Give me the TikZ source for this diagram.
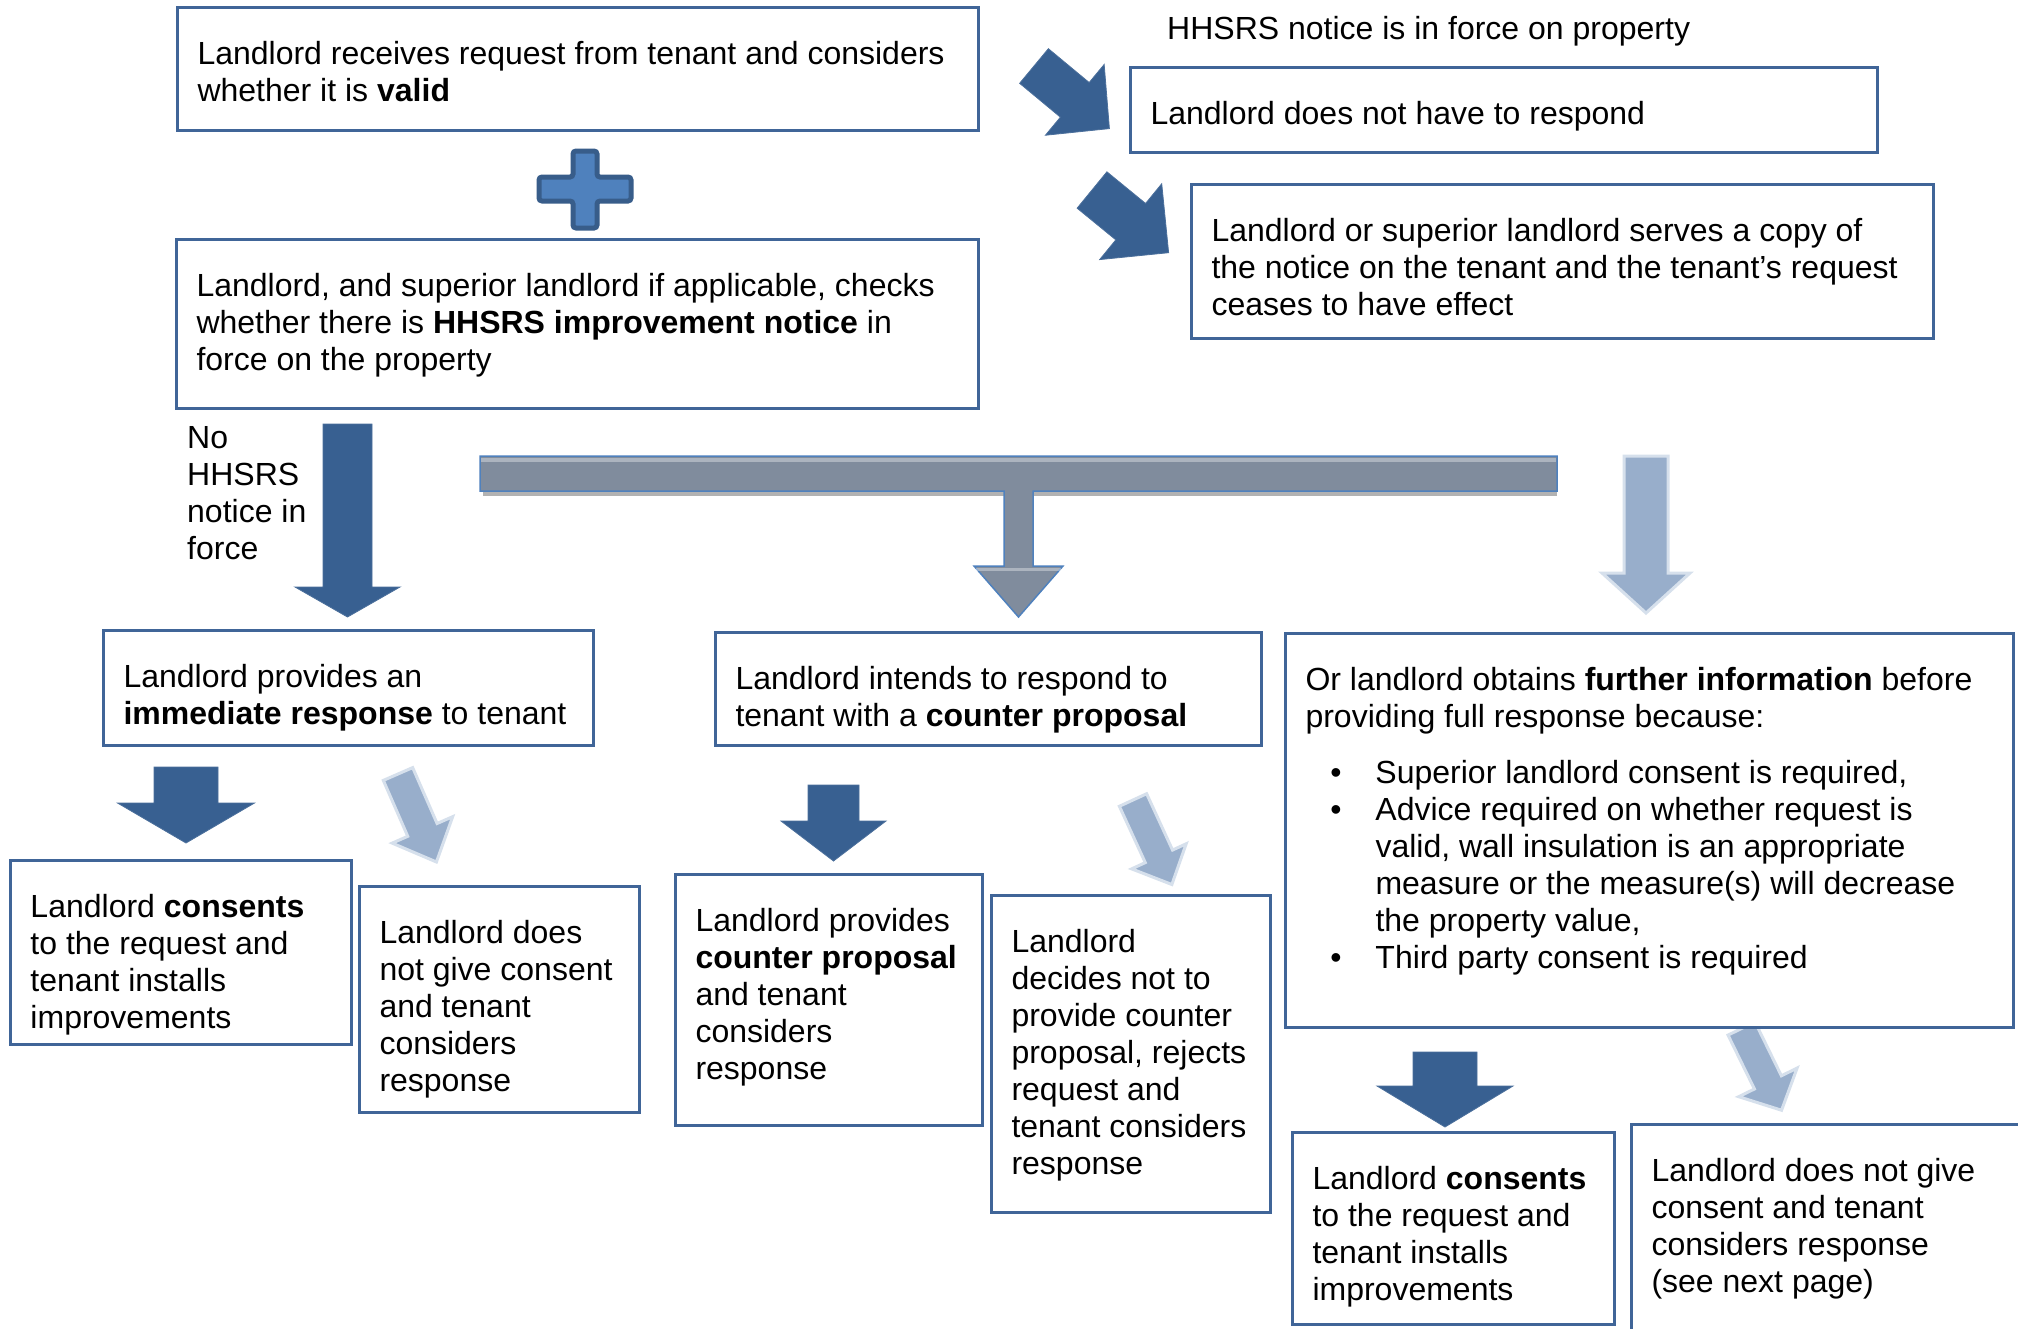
\documentclass[tikz,border=0pt]{standalone}
\usepackage{fontspec}
\setmainfont{Liberation Sans}
\definecolor{boxline}{RGB}{64,101,152}
\definecolor{darkarrow}{RGB}{56,96,145}
\definecolor{lightarrow}{RGB}{152,174,203}
\definecolor{lightedge}{RGB}{214,224,236}
\definecolor{bargray}{RGB}{128,140,157}
\definecolor{baredge}{RGB}{79,129,189}
\definecolor{plusfill}{RGB}{79,129,189}
\definecolor{plusedge}{RGB}{56,93,138}
\tikzset{
  fbox/.style={draw=boxline, line width=3pt, fill=white, font=\fontsize{32pt}{37pt}\selectfont},
  plaintext/.style={font=\fontsize{32pt}{37pt}\selectfont},
  darkarr/.style={fill=darkarrow, draw=darkarrow!90!white, line width=0.8pt},
  lightarr/.style={fill=lightarrow, draw=lightedge, line width=3pt, line join=miter},
}
% style, name, x, y, width, height, text
\newcommand{\tb}[7]{\node[#1, anchor=north west, inner sep=0pt] (#2) at (#3,#4) {\parbox[c][#6pt][t]{#5pt}{\raggedright\leftskip=20pt\relax\rule{0pt}{57pt}#7}};}
% style, x, y, angle, shaft length, shaft width, head length, head width
\newcommand{\blockarr}[8]{\path[#1, shift={(#2,#3)}, rotate=#4, x=1pt, y=1pt]
  (0,{-#6/2}) -- (#5,{-#6/2}) -- (#5,{-#8/2}) -- ({#5+#7},0) -- (#5,{#8/2}) -- (#5,{#6/2}) -- (0,{#6/2}) -- cycle;}
\begin{document}
\begin{tikzpicture}[x=1pt,y=-1pt]
\useasboundingbox (0,0) rectangle (2018,1328);
\clip (0,0) rectangle (2018,1328);
\fill[white] (0,0) rectangle (2018,1328);

% plus sign
\path[fill=plusfill, draw=plusedge, line width=5pt, rounded corners=3pt]
  (573,151) -- (597,151) -- (597,177) -- (631,177) -- (631,201) -- (597,201) -- (597,228)
  -- (573,228) -- (573,201) -- (539,201) -- (539,177) -- (573,177) -- cycle;

% diagonal arrows at top
\blockarr{darkarr}{1034}{66}{-39.7}{53}{45}{45}{92}
\blockarr{darkarr}{1092}{190}{-39.3}{50}{47}{49}{98}

% big down arrow
\blockarr{darkarr}{347.5}{424}{-90}{163}{49}{30}{105}

% gray T bar
\fill[black!30] (483,491) rectangle (1557,496);
\path[fill=bargray, draw=baredge, line width=1.5pt, line join=miter]
  (480,456) -- (1557,456) -- (1557,491) -- (1033,491) -- (1033,566) -- (1063,566)
  -- (1018.5,617) -- (974,566) -- (1004,566) -- (1004,491) -- (480,491) -- cycle;
\fill[white, opacity=0.35] (481,457.5) rectangle (1556,462);
\fill[white, opacity=0.35] (976,567.5) rectangle (1061,571);

% light down arrow at right
\blockarr{lightarr}{1646}{456}{-90}{117}{44}{40}{88}

% second row arrows
\blockarr{darkarr}{186}{767}{-90}{36}{64}{40}{137}
\blockarr{lightarr}{398}{774}{-66.4}{61}{32}{35}{66}
\blockarr{darkarr}{833.5}{785}{-90}{36}{51}{40}{105}
\blockarr{lightarr}{1133}{800}{-65.3}{62}{30}{31}{60}
\blockarr{darkarr}{1445}{1052}{-90}{34}{64}{41}{136}
\blockarr{lightarr}{1741.5}{1028.5}{-63.9}{60}{30}{31}{65}

% free texts
\tb{plaintext}{note}{1147}{-18}{900}{80}{HHSRS notice is in force on property}
\tb{plaintext}{nonotice}{167}{391}{220}{200}{No\\HHSRS\\notice in\\force}

% boxes
\tb{fbox}{A}{176}{6}{801}{123}{Landlord receives request from tenant and considers\\whether it is \textbf{valid}}
\tb{fbox}{B}{175}{238}{802}{169}{Landlord, and superior landlord if applicable, checks\\whether there is \textbf{HHSRS improvement notice} in\\force on the property}
\tb{fbox}{C}{1129}{66}{747}{85}{Landlord does not have to respond}
\tb{fbox}{D}{1190}{183}{742}{154}{Landlord or superior landlord serves a copy of\\the notice on the tenant and the tenant’s request\\ceases to have effect}
\tb{fbox}{E}{102}{629}{490}{115}{Landlord provides an\\\textbf{immediate response} to tenant}
\tb{fbox}{F}{714}{631}{546}{113}{Landlord intends to respond to\\tenant with a \textbf{counter proposal}}
\tb{fbox}{G}{1284}{632}{728}{394}{Or landlord obtains \textbf{further information} before\\providing full response because:\par
  \vspace{19pt}\leftskip=90pt\relax
  \leavevmode\llap{\textbullet\hspace{34pt}}Superior landlord consent is required,\par
  \leavevmode\llap{\textbullet\hspace{34pt}}Advice required on whether request is\\valid, wall insulation is an appropriate\\measure or the measure(s) will decrease\\the property value,\par
  \leavevmode\llap{\textbullet\hspace{34pt}}Third party consent is required}
\tb{fbox}{H}{9}{859}{341}{184}{Landlord \textbf{consents}\\to the request and\\tenant installs\\improvements}
\tb{fbox}{I}{358}{885}{280}{226}{Landlord does\\not give consent\\and tenant\\considers\\response}
\tb{fbox}{J}{674}{873}{307}{251}{Landlord provides\\\textbf{counter proposal}\\and tenant\\considers\\response}
\tb{fbox}{K}{990}{894}{279}{317}{Landlord\\decides not to\\provide counter\\proposal, rejects\\request and\\tenant considers\\response}
\tb{fbox}{L}{1291}{1131}{322}{192}{Landlord \textbf{consents}\\to the request and\\tenant installs\\improvements}
\tb{fbox}{M}{1630}{1123}{420}{260}{Landlord does not give\\consent and tenant\\considers response\\(see next page)}
\end{tikzpicture}
\end{document}
